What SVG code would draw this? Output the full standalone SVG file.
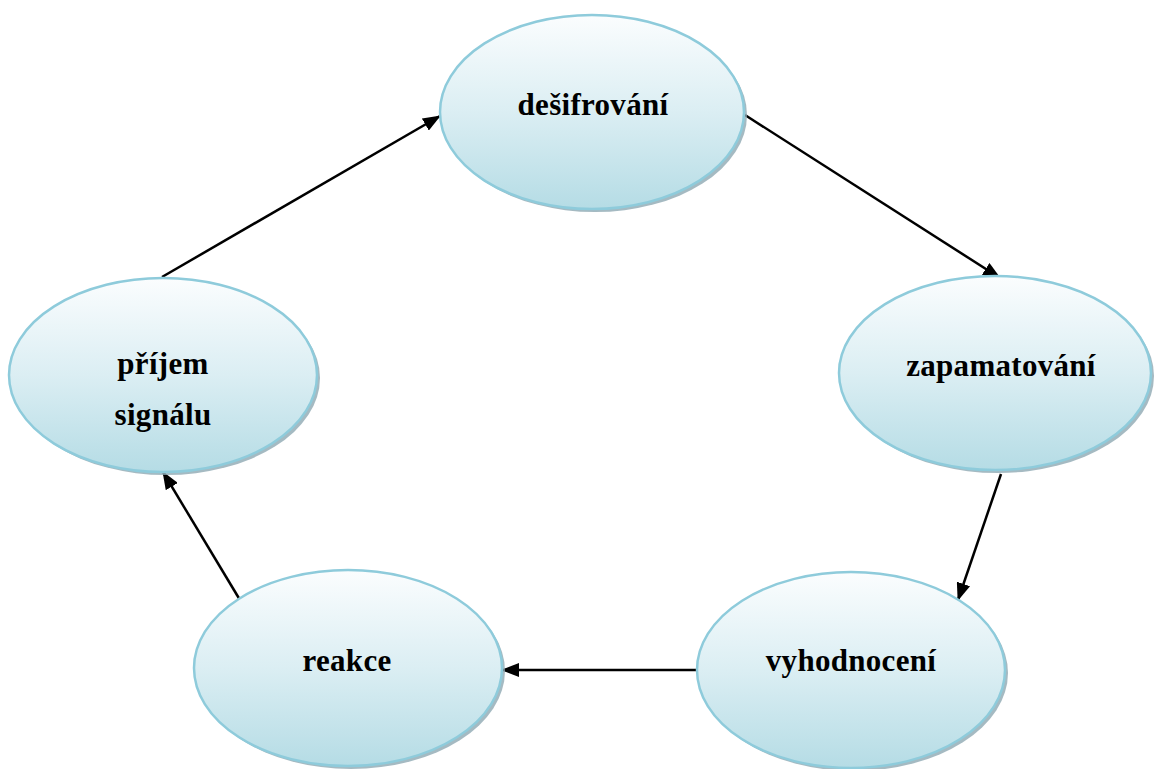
<svg xmlns="http://www.w3.org/2000/svg" width="1155" height="769" viewBox="0 0 1155 769">
<defs>
<linearGradient id="g" x1="0" y1="0" x2="0" y2="1">
<stop offset="0" stop-color="#fbfdfe"/>
<stop offset="0.5" stop-color="#dbeef3"/>
<stop offset="1" stop-color="#b5dce5"/>
</linearGradient>
<marker id="ah" viewBox="0 0 18 14" refX="17" refY="7" markerWidth="18" markerHeight="14" markerUnits="userSpaceOnUse" orient="auto">
<path d="M0,0 L18,7 L0,14 Z" fill="#000"/>
</marker>
</defs>
<style>
.sh{fill:#8fa9b3;opacity:0.8}
.el{fill:url(#g);stroke:#8ecbdb;stroke-width:2.5}
.t{font-family:"Liberation Serif","Times New Roman",serif;font-weight:bold;font-size:31px;letter-spacing:0.3px;fill:#000;text-anchor:middle}
.c{stroke:#000;stroke-width:2.5;fill:none;marker-end:url(#ah)}
</style>
<rect width="1155" height="769" fill="#fff"/>
<g id="connectors">
<line class="c" x1="162" y1="277" x2="440" y2="116"/>
<line class="c" x1="745" y1="115" x2="1000" y2="278"/>
<line class="c" x1="1001" y1="474" x2="958" y2="600"/>
<line class="c" x1="697" y1="670" x2="502" y2="670"/>
<line class="c" x1="240" y1="600" x2="163" y2="472"/>
</g>
<g id="desifrovani">
<ellipse class="sh" cx="595" cy="115" rx="152" ry="97"/>
<ellipse class="el" cx="592" cy="112" rx="152" ry="97"/>
<text class="t" x="593" y="115">dešifrování</text>
</g>
<g id="zapamatovani">
<ellipse class="sh" cx="998" cy="376" rx="156" ry="97"/>
<ellipse class="el" cx="995" cy="373" rx="156" ry="97"/>
<text class="t" x="1001" y="376">zapamatování</text>
</g>
<g id="vyhodnoceni">
<ellipse class="sh" cx="854" cy="673" rx="154" ry="98"/>
<ellipse class="el" cx="851" cy="670" rx="154" ry="98"/>
<text class="t" x="851" y="671">vyhodnocení</text>
</g>
<g id="reakce">
<ellipse class="sh" cx="351" cy="671" rx="154" ry="98"/>
<ellipse class="el" cx="348" cy="668" rx="154" ry="98"/>
<text class="t" x="347" y="671">reakce</text>
</g>
<g id="prijem">
<ellipse class="sh" cx="166" cy="378" rx="154" ry="97"/>
<ellipse class="el" cx="163" cy="375" rx="154" ry="97"/>
<text class="t" x="163" y="374">příjem</text>
<text class="t" x="163" y="425">signálu</text>
</g>
</svg>
